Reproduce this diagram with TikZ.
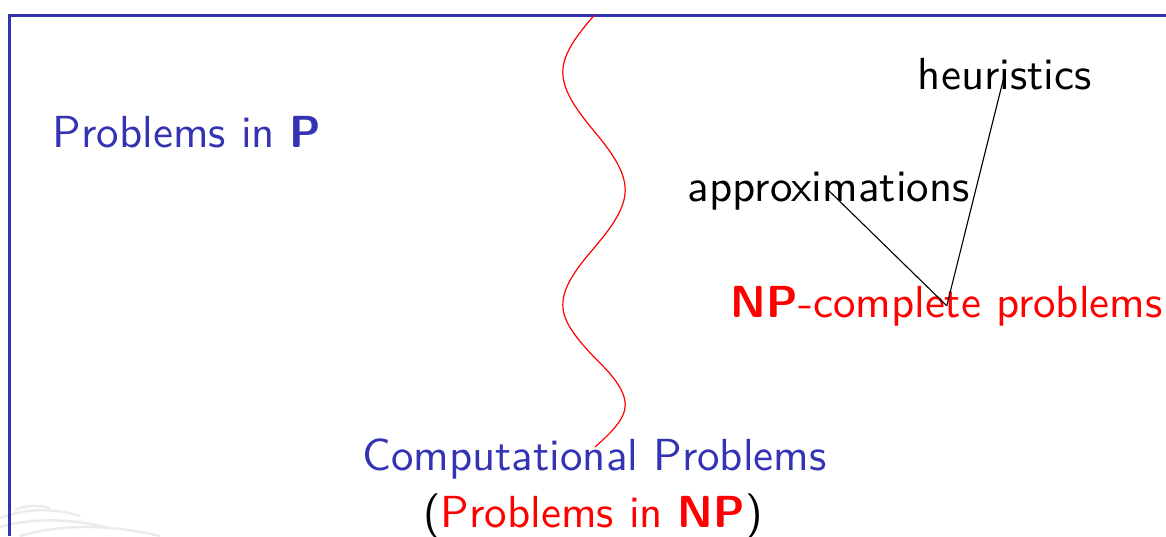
\documentclass[tikz,border=0pt]{standalone}
\usepackage{tikz}
\definecolor{structblue}{RGB}{51,51,179}
\tikzset{
  lbl/.style={inner sep=0pt, anchor=base west, scale=2.245, transform shape, font=\fontsize{10}{12.1}\selectfont\sffamily},
  clbl/.style={inner sep=0pt, anchor=base, scale=2.245, transform shape, font=\fontsize{10}{12.1}\selectfont\sffamily},
  link/.style={draw=black, line width=0.55pt},
  frameline/.style={draw=structblue, line width=1.05pt},
  wave/.style={draw=red, line width=0.6pt},
  logo/.style={draw=black!8, line width=1.2pt}
}
\begin{document}
\begin{tikzpicture}[x=0.5pt, y=-0.5pt]
\useasboundingbox (0,0) rectangle (1166,536);
% faint logo in the corner
\draw[logo] (0,527) .. controls (30,518) and (70,518) .. (110,528);
\draw[logo] (0,518) .. controls (25,508) and (55,508) .. (80,516);
\draw[logo] (20,536) .. controls (60,524) and (110,524) .. (160,536);
\draw[logo] (15,510) .. controls (25,505) and (40,505) .. (50,508);
% frame
\draw[frameline] (1166,15.5) -- (9.5,15.5) -- (9.5,536);
% wavy separator
\draw[wave] (594,15.5)
  .. controls (577.7,34.3) and (562.8,53.2) .. (562.8,72)
  .. controls (562.8,91.7) and (577.7,111.3) .. (594,131)
  .. controls (610.3,150.7) and (625.2,170.3) .. (625.2,190)
  .. controls (625.2,209.3) and (610.3,228.7) .. (594,248)
  .. controls (577.7,267) and (562.8,286) .. (562.8,305)
  .. controls (562.8,322.3) and (577.7,339.7) .. (594,357)
  .. controls (610.3,373) and (625.2,389) .. (625.2,405)
  .. controls (625.2,419) and (610.8,433) .. (595,447);
% texts
\node[lbl, text=structblue] (p) at (52,147) {Problems in \textbf{P}};
\node[lbl] (heur) at (917,89) {heuristics};
\node[lbl] (approx) at (687,201) {approximations};
\node[lbl, text=red] (npc) at (730,317) {\textbf{NP}-complete problems};
\node[clbl, text=structblue] (comp) at (594.5,470) {Computational Problems};
\node[clbl] (compnp) at (593,527) {(\textcolor{red}{Problems in \textbf{NP}})};
% connectors
\draw[link] (approx.center) -- (npc.center);
\draw[link] (heur.center) -- (npc.center);
\end{tikzpicture}
\end{document}
